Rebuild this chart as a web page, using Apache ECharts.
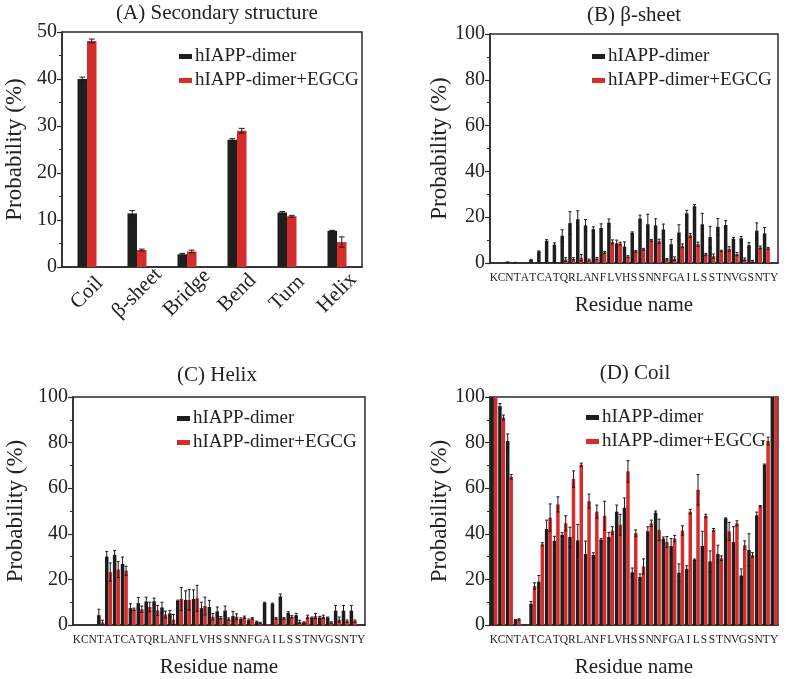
<!DOCTYPE html>
<html>
<head>
<meta charset="utf-8">
<script src="https://cdn.jsdelivr.net/npm/echarts@6/dist/echarts.min.js"></script>
<style>
html,body{margin:0;padding:0;background:#fff;}
#chart{width:787px;height:679px;}
</style>
</head>
<body>
<div id="chart"></div>
<script>
// ---------- DATA ----------
const structCats = ['Coil', 'β-sheet', 'Bridge', 'Bend', 'Turn', 'Helix'];
const structDimer = [40.0, 11.4, 2.7, 27.1, 11.6, 7.7];
const structDimerErr = [0.4, 0.6, 0.2, 0.2, 0.2, 0.1];
const structEgcg = [48.1, 3.6, 3.3, 29.0, 10.8, 5.3];
const structEgcgErr = [0.4, 0.2, 0.3, 0.5, 0.2, 1.1];

const residues = ['K','C','N','T','A','T','C','A','T','Q','R','L','A','N','F','L','V','H','S','S','N','N','F','G','A','I','L','S','S','T','N','V','G','S','N','T','Y'];

const sheetDimer = [0,0,0.7,0.5,0,1.3,5.0,9.7,8.0,11.9,17.4,19.1,16.4,14.8,15.3,17.6,8.6,7.2,13.2,19.4,16.9,16.4,14.6,8.2,13.3,21.7,24.8,16.9,11.3,15.8,16.6,10.6,10.8,7.8,14.1,12.9,0];
const sheetDimerErr = [0,0,0,0,0,0.3,0.3,0.5,0.8,2.6,5.0,3.7,2.6,1.0,1.8,1.6,1.4,2.0,0.4,1.5,4.4,2.9,2.4,2.1,3.4,1.3,0.7,4.8,4.7,3.6,1.9,0.6,0.8,1.1,3.4,2.6,0];
const sheetEgcg = [0,0,0,0,0,0,0,0,0,1.5,1.8,2.3,1.3,1.9,4.6,9.2,8.5,2.8,5.1,6.0,9.9,9.5,1.6,1.9,7.5,12.1,8.2,3.8,3.0,5.3,6.1,3.9,1.6,0.7,6.8,6.4,0];
const sheetEgcgErr = [0,0,0,0,0,0,0,0,0,0.8,0.5,1.4,0.4,0.5,0.4,0.9,0.6,0.4,0.3,0.4,0.4,0.9,0.3,0.8,0.8,0.8,0.9,0.4,0.9,0.3,1.0,0.7,0.6,0.4,0.6,0.4,0];

const helixDimer = [0,0,0,4.3,30.0,30.8,26.8,7.4,9.6,10.3,10.4,7.7,5.1,10.6,11.0,11.4,7.4,7.9,6.0,6.3,3.9,2.6,2.1,1.4,9.7,9.3,12.5,5.3,4.3,1.1,3.2,3.3,3.2,6.3,6.3,6.3,0];
const helixDimerErr = [0,0,0,2.6,2.3,1.8,3.0,1.9,2.5,1.9,1.4,2.3,1.2,0.3,4.0,4.0,2.6,2.9,1.9,2.0,2.1,0.5,0.5,0.3,0.3,0.3,1.1,0.5,0.8,0.3,0.3,0.5,0.3,2.3,2.3,2.3,0];
const helixEgcg = [0,0,0,1.1,23.2,24.3,23.8,6.9,6.9,7.9,6.4,4.6,2.4,11.4,11.0,11.7,8.3,3.6,3.2,2.6,3.6,3.4,2.9,0.9,0.3,2.9,2.9,3.6,1.4,3.6,3.9,3.6,1.1,2.4,1.7,1.7,0];
const helixEgcgErr = [0,0,0,1.0,4.0,3.5,2.0,0.5,1.4,2.1,2.2,1.5,2.2,5.0,4.5,5.7,3.9,1.4,0.5,0.5,1.3,0.5,0.3,0.3,0,0.3,0.3,0.5,0.7,0.7,1.1,0.7,0.3,1.1,0.5,0.5,0];

const coilDimer = [100,96,80.7,2.1,0,9.3,19.0,42.1,36.9,39.6,38.6,37.1,31.1,30.7,37.4,38.6,49.7,51.4,23.1,21.1,41.1,49.3,37.9,34.6,22.9,24.6,28.6,34.7,27.9,31.1,46.7,36.4,21.7,32.9,48.1,70.3,100];
const coilDimerErr = [0,1.1,3.1,0.3,0,1.0,2.7,3.9,2.0,0.9,4.3,7.0,5.7,1.0,0.5,2.0,2.9,4.3,1.9,1.3,2.0,0.7,0.7,3.3,3.9,1.4,0.3,6.4,4.6,3.9,0.3,6.7,2.9,7.1,1.4,0.3,0];
const coilEgcg = [100,91,65,2.4,0,17.1,35.4,47.1,52.9,44.6,64,70.3,54.3,49.7,47.9,41.4,44.0,67.4,40.3,25.7,44.6,41.7,36.4,37.9,41.4,49.7,59.3,47.9,41.7,29.3,41.1,44.6,35.0,30.7,52.1,80.7,100];
const coilEgcgErr = [0,1.1,1.0,0.3,0,1.4,0.7,6.0,3.3,3.3,3.6,0.7,3.1,2.9,6.4,1.7,4.6,4.7,1.4,3.3,1.4,4.7,2.4,1.4,2.1,1.0,6.7,0.7,0.6,1.0,3.9,1.1,1.9,1.0,0.3,1.7,0];

const seriesNames = ['hIAPP-dimer', 'hIAPP-dimer+EGCG'];
const panelTitles = ['(A) Secondary structure', '(B) β-sheet', '(C) Helix', '(D) Coil'];

// ---------- STYLE ----------
const FONT = 'Liberation Serif';
const BLACK = '#1e1e1e';
const RED = '#d52c2c';
const AXIS = '#2a2a2a';

const grids = [
  {left: 62, top: 32, width: 300, height: 235},
  {left: 490, top: 34, width: 288, height: 229},
  {left: 73, top: 397, width: 292, height: 233},
  {left: 490, top: 397, width: 288, height: 233}
];
const gaps = [0.62, 0.1, 0.1, 0.1];

function errRender(gapFrac, side) {
  return function (params, api) {
    const i = api.value(0), v = api.value(1), e = api.value(2);
    if (!e) return null;
    const band = api.size([1, 0])[0];
    const bw = band * (1 - gapFrac) / 2;
    const c = api.coord([i, v]);
    const cx = c[0] + side * bw / 2;
    const top = api.coord([i, v + e])[1];
    const bot = api.coord([i, Math.max(v - e, 0)])[1];
    const cap = Math.max(bw * 0.3, 1.5);
    const st = {stroke: '#1a1a1a', lineWidth: 1};
    return {type: 'group', children: [
      {type: 'line', shape: {x1: cx, y1: top, x2: cx, y2: bot}, style: st},
      {type: 'line', shape: {x1: cx - cap, y1: top, x2: cx + cap, y2: top}, style: st},
      {type: 'line', shape: {x1: cx - cap, y1: bot, x2: cx + cap, y2: bot}, style: st}
    ]};
  };
}

const panels = [
  {cats: structCats, d: structDimer, de: structDimerErr, r: structEgcg, re: structEgcgErr, max: 50, interval: 10},
  {cats: residues, d: sheetDimer, de: sheetDimerErr, r: sheetEgcg, re: sheetEgcgErr, max: 100, interval: 20},
  {cats: residues, d: helixDimer, de: helixDimerErr, r: helixEgcg, re: helixEgcgErr, max: 100, interval: 20},
  {cats: residues, d: coilDimer, de: coilDimerErr, r: coilEgcg, re: coilEgcgErr, max: 100, interval: 20}
];

const xAxes = [], yAxes = [], series = [];
const titlePos = [[217, 3], [634, 5], [217, 365], [635, 363]];
const yNameGap = [36, 36, 46, 36];
const legendPos = [[174, 42], [587, 42], [172, 404], [581, 403]];

panels.forEach((p, k) => {
  const isA = k === 0;
  xAxes.push({
    type: 'category', gridIndex: k, data: p.cats,
    axisLine: {lineStyle: {color: AXIS, width: 1.5}},
    axisTick: {alignWithLabel: true, interval: 0, length: 5, lineStyle: {color: AXIS, width: 1.2}},
    axisLabel: isA ? {
      interval: 0, rotate: 45, align: 'center', verticalAlign: 'middle', margin: 26,
      fontFamily: FONT, fontSize: 21, color: '#222'
    } : {
      interval: 0, margin: 9, fontFamily: FONT, fontSize: 11.5, color: '#222'
    },
    name: isA ? '' : 'Residue name', nameLocation: 'middle', nameGap: 32,
    nameTextStyle: {fontFamily: FONT, fontSize: 21, color: '#222'}
  });
  yAxes.push({
    type: 'value', gridIndex: k, min: 0, max: p.max, interval: p.interval,
    axisLine: {show: true, lineStyle: {color: AXIS, width: 1.5}},
    axisTick: {show: true, length: 5, lineStyle: {color: AXIS, width: 1.2}},
    minorTick: {show: true, splitNumber: 2, length: 3, lineStyle: {color: AXIS, width: 1}},
    splitLine: {show: false},
    axisLabel: {fontFamily: FONT, fontSize: 20, color: '#222', margin: 5},
    name: 'Probability (%)', nameLocation: 'middle', nameGap: yNameGap[k],
    nameTextStyle: {fontFamily: FONT, fontSize: 23, color: '#222'}
  });
  const gapPct = Math.round(gaps[k] * 100) + '%';
  series.push({
    name: seriesNames[0], type: 'bar', xAxisIndex: k, yAxisIndex: k,
    data: p.d, barGap: '0%', barCategoryGap: gapPct,
    itemStyle: {color: BLACK}, animation: false
  });
  series.push({
    name: seriesNames[1], type: 'bar', xAxisIndex: k, yAxisIndex: k,
    data: p.r, barGap: '0%', barCategoryGap: gapPct,
    itemStyle: {color: RED}, animation: false
  });
  series.push({
    type: 'custom', xAxisIndex: k, yAxisIndex: k, z: 5,
    renderItem: errRender(gaps[k], -1),
    data: p.d.map((v, i) => [i, v, p.de[i]]), animation: false, silent: true
  });
  series.push({
    type: 'custom', xAxisIndex: k, yAxisIndex: k, z: 5,
    renderItem: errRender(gaps[k], 1),
    data: p.r.map((v, i) => [i, v, p.re[i]]), animation: false, silent: true
  });
});

const option = {
  backgroundColor: '#fff',
  animation: false,
  title: panelTitles.map((t, k) => ({
    text: t, left: titlePos[k][0], top: titlePos[k][1], textAlign: 'center', padding: 0,
    textStyle: {fontFamily: FONT, fontSize: 21, fontWeight: 'normal', color: '#222'}
  })),
  legend: legendPos.map(pos => ({
    left: pos[0], top: pos[1], orient: 'vertical', icon: 'rect',
    itemWidth: 13, itemHeight: 5, itemGap: 5,
    data: seriesNames, selectedMode: false,
    textStyle: {fontFamily: FONT, fontSize: 19, color: '#222', padding: [0, 0, 0, -2]}
  })),
  grid: grids.map(g => Object.assign({show: true, borderColor: AXIS, borderWidth: 1.5, backgroundColor: 'transparent'}, g)),
  xAxis: xAxes,
  yAxis: yAxes,
  series: series
};

const chart = echarts.init(document.getElementById('chart'), null, {renderer: 'canvas'});
chart.setOption(option);
</script>
</body>
</html>
